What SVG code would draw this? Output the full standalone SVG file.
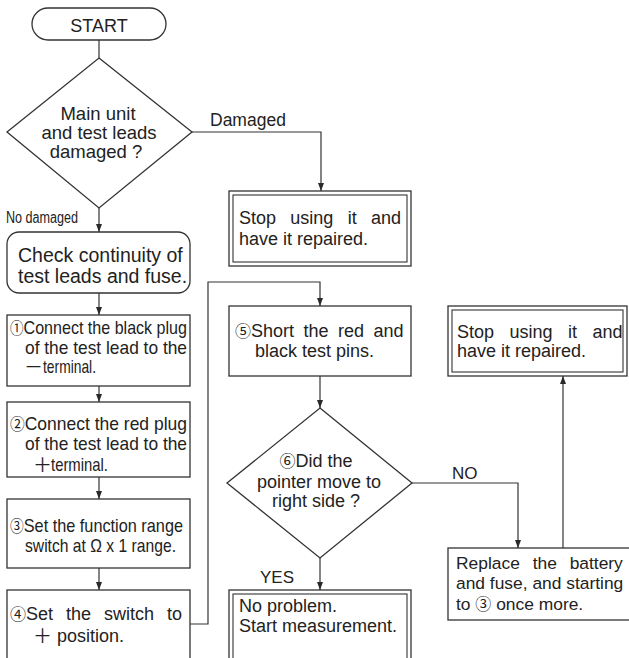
<svg xmlns="http://www.w3.org/2000/svg" width="629" height="658" viewBox="0 0 629 658">
<defs>
<marker id="arr" markerUnits="userSpaceOnUse" viewBox="0 0 8 6" refX="8" refY="3" markerWidth="8" markerHeight="6" orient="auto">
<path d="M0,0 L8,3 L0,6 z" fill="#2a2a2a"/>
</marker>
</defs>
<style>
.s{fill:#fff;stroke:#333;stroke-width:1.3}
.d{fill:none;stroke:#333;stroke-width:1.1}
.c{fill:none;stroke:#333;stroke-width:1.2}
text{font-family:"Liberation Sans",Arial,"Noto Sans CJK JP",sans-serif;font-size:18px;fill:#222;stroke:none}
.m{text-anchor:middle}
.n{font-size:19px}
.cn{font-family:"Noto Sans CJK JP",sans-serif;font-size:16px}
.sg{font-family:"Noto Sans CJK JP",sans-serif;font-size:19px}
</style>
<g id="connectors">
<g class="c">
<line x1="99" y1="40" x2="99" y2="58"/>
<path d="M192,132 H321 V191" marker-end="url(#arr)"/>
<path d="M99,208 V232" marker-end="url(#arr)"/>
<path d="M99,293 V315" marker-end="url(#arr)"/>
<path d="M99,386 V402" marker-end="url(#arr)"/>
<path d="M99,477 V499" marker-end="url(#arr)"/>
<path d="M99,568 V590" marker-end="url(#arr)"/>
<path d="M190,624 H208 V282 H320 V306" marker-end="url(#arr)"/>
<path d="M320,376 V408" marker-end="url(#arr)"/>
<path d="M412,483 H518 V548" marker-end="url(#arr)"/>
<path d="M320,558 V590" marker-end="url(#arr)"/>
<path d="M563,548 V376" marker-end="url(#arr)"/>
</g>
<text x="210" y="126" style="font-size:17.5px">Damaged</text>
<text x="6" y="223" textLength="72" lengthAdjust="spacingAndGlyphs" style="font-size:16px">No damaged</text>
<text x="452" y="479" style="font-size:17px">NO</text>
<text x="260" y="583" style="font-size:17px">YES</text>
</g>
<g id="start">
<rect class="s" x="32" y="8" width="134" height="32" rx="16"/>
<text class="m" x="99" y="32">START</text>
</g>
<g id="damaged-check">
<polygon class="s" points="99,58 192,132 99,208 7,132"/>
<text class="m" x="98" y="120" style="font-size:18.5px">Main unit</text>
<text class="m" x="99" y="139" style="font-size:18.5px">and test leads</text>
<text class="m" x="96" y="158" style="font-size:18.5px">damaged ?</text>
</g>
<g id="repair-1">
<rect class="s" x="229" y="191" width="182" height="75"/>
<rect class="d" x="233" y="195" width="174" height="67"/>
<text x="239" y="224" style="word-spacing:9.3px">Stop using it and</text>
<text x="239" y="245">have it repaired.</text>
</g>
<g id="continuity">
<rect class="s" x="7" y="232" width="183" height="61" rx="12"/>
<text x="18" y="262" style="font-size:19.5px">Check continuity of</text>
<text x="18" y="283" style="font-size:19.5px">test leads and fuse.</text>
</g>
<g id="step1">
<rect class="s" x="7" y="315" width="183" height="71"/>
<text class="n" x="10" y="334" textLength="177" lengthAdjust="spacingAndGlyphs"><tspan class="cn">①</tspan>Connect the black plug</text>
<text class="n" x="25" y="354" textLength="162" lengthAdjust="spacingAndGlyphs">of the test lead to the</text>
<text x="24" y="374"><tspan class="sg">－</tspan></text>
<text class="n" x="43" y="373" textLength="53" lengthAdjust="spacingAndGlyphs">terminal.</text>
</g>
<g id="step2">
<rect class="s" x="7" y="402" width="183" height="75"/>
<text class="n" x="10" y="430" textLength="177" lengthAdjust="spacingAndGlyphs"><tspan class="cn">②</tspan>Connect the red plug</text>
<text class="n" x="25" y="450" textLength="162" lengthAdjust="spacingAndGlyphs">of the test lead to the</text>
<text x="33" y="472"><tspan class="sg">＋</tspan></text>
<text class="n" x="51" y="471" textLength="57" lengthAdjust="spacingAndGlyphs">terminal.</text>
</g>
<g id="step3">
<rect class="s" x="7" y="499" width="183" height="69"/>
<text class="n" x="10" y="532" textLength="173" lengthAdjust="spacingAndGlyphs"><tspan class="cn">③</tspan>Set the function range</text>
<text class="n" x="25" y="552" textLength="151" lengthAdjust="spacingAndGlyphs">switch at Ω x 1 range.</text>
</g>
<g id="step4">
<rect class="s" x="7" y="590" width="183" height="80"/>
<text x="10" y="620" style="word-spacing:8px"><tspan class="cn">④</tspan>Set the switch to</text>
<text x="33" y="643"><tspan class="sg">＋</tspan></text>
<text x="57" y="642">position.</text>
</g>
<g id="step5">
<rect class="s" x="229" y="306" width="182" height="70"/>
<text x="235" y="337" style="word-spacing:4.5px"><tspan class="cn">⑤</tspan>Short the red and</text>
<text x="255" y="357">black test pins.</text>
</g>
<g id="step6">
<polygon class="s" points="320,408 412,483 320,558 227,483"/>
<text class="m" x="316" y="467"><tspan class="cn">⑥</tspan>Did the</text>
<text class="m" x="319" y="488">pointer move to</text>
<text class="m" x="316" y="507">right side ?</text>
</g>
<g id="ok">
<rect class="s" x="229" y="590" width="182" height="80"/>
<rect class="d" x="233" y="594" width="174" height="80"/>
<text x="239" y="612">No problem.</text>
<text x="239" y="632">Start measurement.</text>
</g>
<g id="replace">
<rect class="s" x="448" y="548" width="190" height="72"/>
<text x="456" y="569" style="font-size:17.4px;word-spacing:8px">Replace the battery</text>
<text x="456" y="589" style="font-size:17.4px">and fuse, and starting</text>
<text x="456" y="610" style="font-size:17.4px">to <tspan class="cn">③</tspan> once more.</text>
</g>
<g id="repair-2">
<rect class="s" x="448" y="306" width="179" height="70"/>
<rect class="d" x="452" y="310" width="171" height="62"/>
<text x="457" y="338" style="word-spacing:10.5px">Stop using it and</text>
<text x="457" y="357">have it repaired.</text>
</g>
</svg>
